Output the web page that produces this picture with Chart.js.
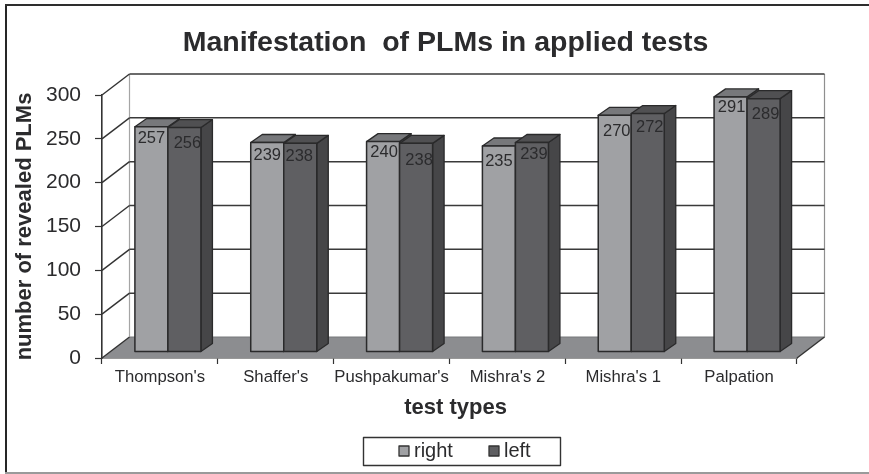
<!DOCTYPE html>
<html>
<head>
<meta charset="utf-8">
<title>Manifestation of PLMs in applied tests</title>
<script src="https://cdn.jsdelivr.net/npm/chart.js@4"></script>
<style>
  html, body { margin: 0; padding: 0; background: #fff; overflow: hidden; }
  canvas { display: block; }
</style>
</head>
<body>
<canvas id="chart1" width="869" height="474"></canvas>
<script>
const categories = ["Thompson's", "Shaffer's", "Pushpakumar's", "Mishra's 2", "Mishra's 1", "Palpation"];
const rightValues = [257, 239, 240, 235, 270, 291];
const leftValues = [256, 238, 238, 239, 272, 289];

// the value labels sit a bit unevenly inside the bars in the original
const labelShiftX = [[0, 0, 1, 0, 2, 1], [3, -1, 3, 2, 2, 2]];
const labelShiftY = [[12, 13, 11, 15, 16, 11], [16, 13, 17, 12, 14, 16]];

const FONT = '"Liberation Sans", Arial, sans-serif';
const INK = '#2b2b2d';

// excel style 3D look
const WALL_DX = 27.5, WALL_DY = -21;   // front plane -> back wall
const BAR_DX = 8, BAR_DY = -6;         // front plane -> bar front face
const DEPTH_DX = 11.5, DEPTH_DY = -8;  // bar front face -> bar back face

const faces = [
  { front: '#a0a1a4', top: '#77787b', side: '#77787b' },
  { front: '#5f5f62', top: '#505052', side: '#464648' }
];

function poly(ctx, pts, fill, stroke, width) {
  ctx.beginPath();
  pts.forEach((p, i) => i ? ctx.lineTo(p[0], p[1]) : ctx.moveTo(p[0], p[1]));
  ctx.closePath();
  if (fill) { ctx.fillStyle = fill; ctx.fill(); }
  if (stroke) { ctx.strokeStyle = stroke; ctx.lineWidth = width; ctx.stroke(); }
}

function line(ctx, x1, y1, x2, y2, color, width) {
  ctx.beginPath();
  ctx.moveTo(x1, y1);
  ctx.lineTo(x2, y2);
  ctx.strokeStyle = color;
  ctx.lineWidth = width;
  ctx.stroke();
}

function drawBar(ctx, bar, face) {
  const half = bar.width / 2;
  const l = bar.x - half + BAR_DX, r = bar.x + half + BAR_DX;
  const t = bar.y + BAR_DY, b = bar.base + BAR_DY;
  const edge = '#2a2a2b';
  poly(ctx, [[r, t], [r + DEPTH_DX, t + DEPTH_DY], [r + DEPTH_DX, b + DEPTH_DY], [r, b]], face.side, edge, 1.3);
  poly(ctx, [[l, t], [l + DEPTH_DX, t + DEPTH_DY], [r + DEPTH_DX, t + DEPTH_DY], [r, t]], face.top, edge, 1.3);
  poly(ctx, [[l, t], [r, t], [r, b], [l, b]], face.front, edge, 1.5);
}

const box3d = {
  id: 'box3d',
  // walls, floor and frame go under the bars
  beforeDatasetsDraw(chart) {
    const { ctx, chartArea: a, scales: { y } } = chart;
    ctx.save();
    line(ctx, 6, 5, 6, 474, '#262626', 2);
    line(ctx, 5, 5, 869, 5, '#2e2e2e', 2);
    line(ctx, 5, 473, 869, 473, '#9a9a9a', 2);

    const backLeft = a.left + WALL_DX, backRight = a.right + WALL_DX;
    poly(ctx, [[a.left, a.bottom], [backLeft, a.bottom + WALL_DY], [backRight, a.bottom + WALL_DY], [a.right, a.bottom]], '#8c8d90');
    line(ctx, backLeft, a.bottom + WALL_DY, backRight, a.bottom + WALL_DY, '#77787a', 1);
    line(ctx, backLeft, a.top + WALL_DY, backLeft, a.bottom + WALL_DY, '#a5a5a5', 1.2);
    line(ctx, backRight, a.top + WALL_DY, backRight, a.bottom + WALL_DY, '#8f8f8f', 1.2);
    line(ctx, a.right, a.bottom, backRight, a.bottom + WALL_DY, '#333', 1.4);

    y.ticks.forEach((t, i) => {
      const py = y.getPixelForTick(i);
      line(ctx, a.left, py, backLeft, py + WALL_DY, '#333', 1.4);
      if (t.value > 0) {
        line(ctx, backLeft, py + WALL_DY, backRight, py + WALL_DY, '#3a3a3a', 1.5);
      }
    });
    ctx.restore();
  },
  // skip the flat bars, the 3D boxes are drawn together below
  beforeDatasetDraw() {
    return false;
  },
  afterDatasetsDraw(chart) {
    const { ctx } = chart;
    const metas = chart.data.datasets.map((ds, d) => chart.getDatasetMeta(d));
    ctx.save();
    ctx.lineJoin = 'round';
    // left to right, so the dark bar covers the side of the light one
    categories.forEach((c, i) => {
      metas.forEach((meta, d) => drawBar(ctx, meta.data[i], faces[d]));
    });

    ctx.fillStyle = INK;
    ctx.font = '16.5px ' + FONT;
    ctx.textAlign = 'center';
    ctx.textBaseline = 'middle';
    chart.data.datasets.forEach((ds, d) => {
      metas[d].data.forEach((bar, i) => {
        ctx.fillText(ds.data[i], bar.x + BAR_DX + labelShiftX[d][i], bar.y + BAR_DY + labelShiftY[d][i]);
      });
    });

    // boxed legend
    ctx.strokeStyle = '#333';
    ctx.lineWidth = 1.4;
    ctx.strokeRect(363.5, 437.5, 197, 28);
    const swatchX = [399, 489];
    chart.data.datasets.forEach((ds, d) => {
      ctx.fillStyle = ds.backgroundColor;
      ctx.fillRect(swatchX[d], 446, 10, 10);
      ctx.strokeStyle = '#333';
      ctx.lineWidth = 1.3;
      ctx.strokeRect(swatchX[d], 446, 10, 10);
      ctx.fillStyle = INK;
      ctx.font = '20px ' + FONT;
      ctx.textAlign = 'left';
      ctx.fillText(ds.label, swatchX[d] + 15, 451);
    });
    ctx.restore();
  }
};

new Chart(document.getElementById('chart1').getContext('2d'), {
  type: 'bar',
  data: {
    labels: categories,
    datasets: [
      { label: 'right', data: rightValues, backgroundColor: faces[0].front },
      { label: 'left', data: leftValues, backgroundColor: faces[1].front }
    ]
  },
  options: {
    responsive: false,
    animation: false,
    layout: { padding: { left: 10, right: 72, top: 10, bottom: 0 } },
    datasets: { bar: { categoryPercentage: 0.57, barPercentage: 1 } },
    plugins: {
      legend: { display: false },
      tooltip: { enabled: false },
      title: {
        display: true,
        fullSize: false,
        text: 'Manifestation  of PLMs in applied tests ',
        color: INK,
        font: { family: FONT, size: 28.5, weight: 'bold' },
        padding: { top: 15.9, bottom: 34.9 }
      }
    },
    scales: {
      x: {
        grid: { drawOnChartArea: false, color: '#333', tickLength: 6, tickWidth: 1.2 },
        border: { color: '#333', width: 1.6 },
        ticks: { color: INK, font: { family: FONT, size: 16.7 }, padding: 3, maxRotation: 0, autoSkip: false },
        title: {
          display: true,
          text: '  test types',
          color: INK,
          font: { family: FONT, size: 22, weight: 'bold' },
          padding: { top: 0, bottom: 52.8 }
        },
        afterFit(scale) { scale.height = 116; }
      },
      y: {
        min: 0,
        max: 300,
        grid: { drawOnChartArea: false, color: '#333', tickLength: 7, tickWidth: 1.2 },
        border: { color: '#333', width: 1.6 },
        ticks: { stepSize: 50, color: INK, font: { family: FONT, size: 21 }, padding: 14 },
        title: {
          display: true,
          text: 'number of revealed PLMs',
          color: INK,
          font: { family: FONT, size: 22, weight: 'bold' },
          padding: 2
        },
        afterFit(scale) { scale.width = 92; }
      }
    }
  },
  plugins: [box3d]
});
</script>
</body>
</html>
